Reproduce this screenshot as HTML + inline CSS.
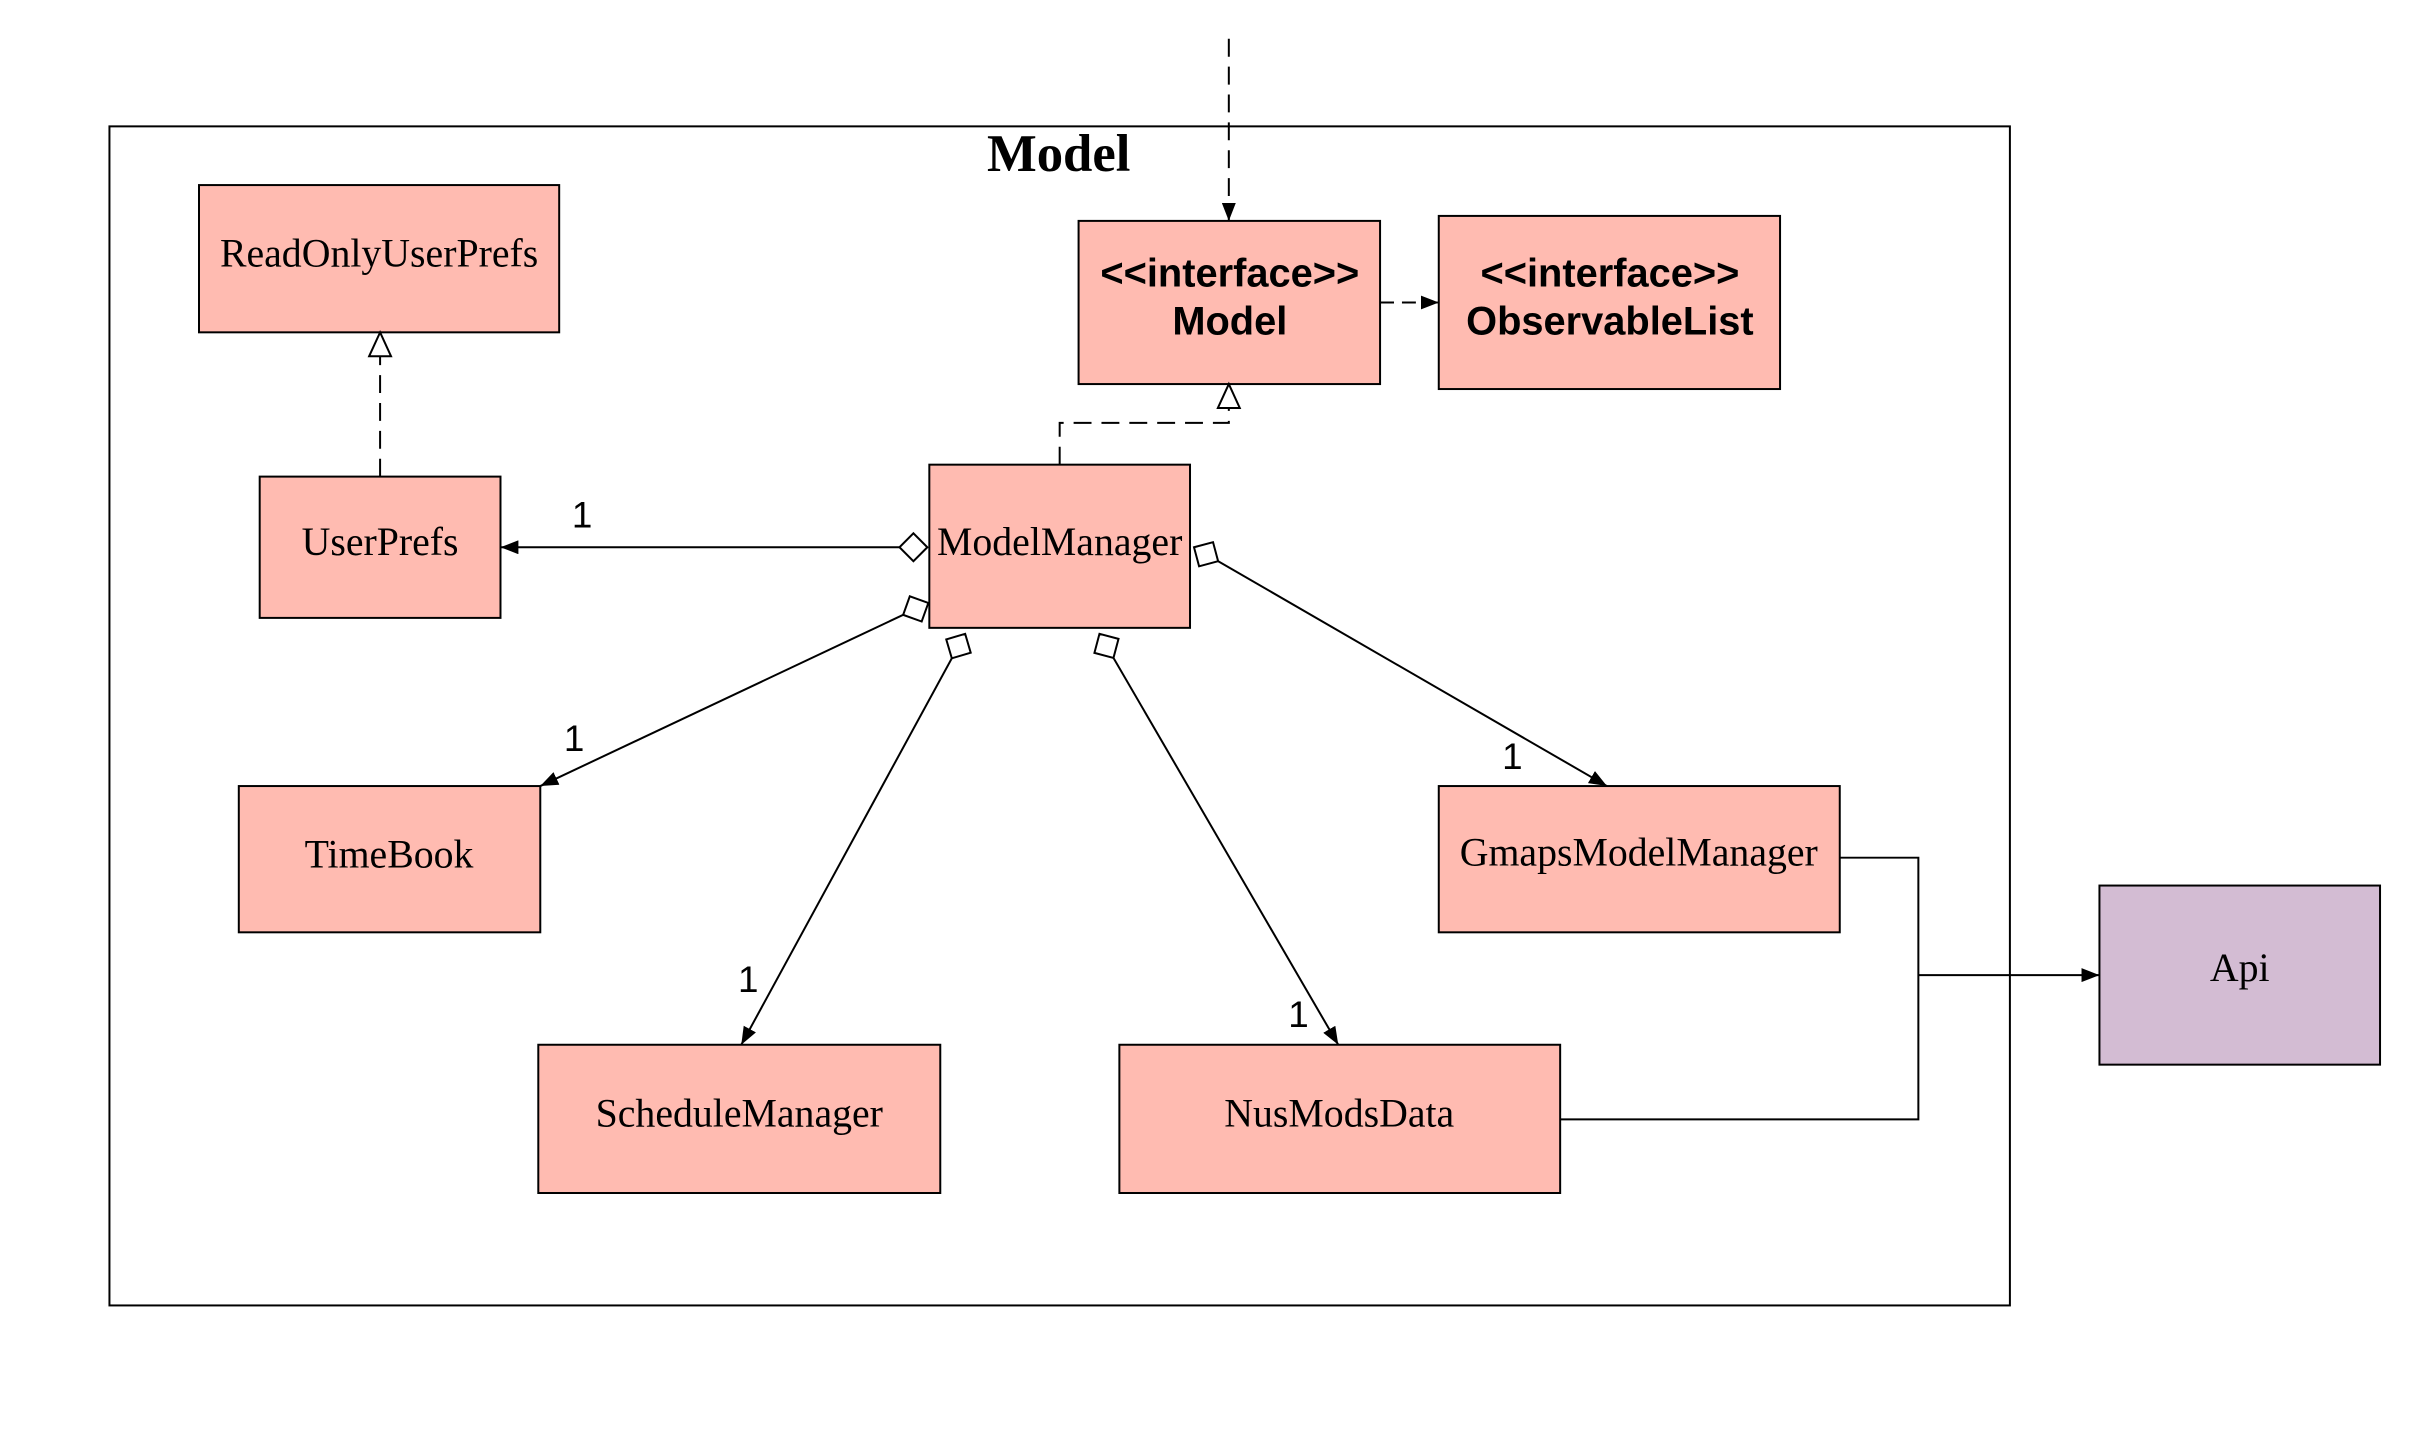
<!DOCTYPE html>
<html><head><meta charset="utf-8"><style>
html,body{margin:0;padding:0;background:#fff;}
svg{display:block}
.s{font-family:"Liberation Serif",serif;font-size:40px;fill:#000}
.b{font-family:"Liberation Sans",sans-serif;font-size:40px;font-weight:bold;fill:#000}
.n{font-family:"Liberation Sans",sans-serif;font-size:37px;fill:#000}
</style></head><body>
<svg width="2420" height="1435" viewBox="0 0 2420 1435" xmlns="http://www.w3.org/2000/svg">
<defs>
<marker id="arr" markerWidth="20" markerHeight="14" refX="18" refY="7" orient="auto" markerUnits="userSpaceOnUse">
<path d="M0,0 L18,7 L0,14 z" fill="#000"/></marker>
<marker id="tri" markerWidth="30" markerHeight="30" refX="26" refY="13" orient="auto" markerUnits="userSpaceOnUse">
<path d="M2,2 L26,13 L2,24 z" fill="#fff" stroke="#000" stroke-width="2"/></marker>
<marker id="dia" markerWidth="34" markerHeight="34" refX="2" refY="16" orient="auto" markerUnits="userSpaceOnUse">
<path d="M2,16 L16,2 L30,16 L16,30 z" fill="#fff" stroke="#000" stroke-width="2"/></marker>
</defs>
<g transform="scale(0.995)">
<rect x="110" y="127" width="1910" height="1185" fill="#fff" stroke="#000" stroke-width="2"/>
<text x="1064" y="172" text-anchor="middle" style="font-family:'Liberation Serif',serif;font-size:53px;font-weight:bold">Model</text>
<g fill="#ffbbb1" stroke="#000" stroke-width="2">
<rect x="200" y="186" width="362" height="148"/>
<rect x="1084" y="222" width="303" height="164"/>
<rect x="1446" y="217" width="343" height="174"/>
<rect x="261" y="479" width="242" height="142"/>
<rect x="934" y="467" width="262" height="164"/>
<rect x="240" y="790" width="303" height="147"/>
<rect x="1446" y="790" width="403" height="147"/>
<rect x="541" y="1050" width="404" height="149"/>
<rect x="1125" y="1050" width="443" height="149"/>
</g>
<rect x="2110" y="890" width="282" height="180" fill="#d3bcd3" stroke="#000" stroke-width="2"/>
<text class="s" x="381" y="268" text-anchor="middle">ReadOnlyUserPrefs</text>
<text class="b" x="1236" y="288" text-anchor="middle">&lt;&lt;interface&gt;&gt;</text>
<text class="b" x="1236" y="336" text-anchor="middle">Model</text>
<text class="b" x="1618" y="288" text-anchor="middle">&lt;&lt;interface&gt;&gt;</text>
<text class="b" x="1618" y="336" text-anchor="middle">ObservableList</text>
<text class="s" x="382" y="558" text-anchor="middle">UserPrefs</text>
<text class="s" x="1065" y="558" text-anchor="middle">ModelManager</text>
<text class="s" x="391" y="872" text-anchor="middle">TimeBook</text>
<text class="s" x="1647" y="870" text-anchor="middle">GmapsModelManager</text>
<text class="s" x="743" y="1132" text-anchor="middle">ScheduleManager</text>
<text class="s" x="1346" y="1132" text-anchor="middle">NusModsData</text>
<text class="s" x="2251" y="986" text-anchor="middle">Api</text>
<g fill="none" stroke="#000" stroke-width="2">
<path d="M1235,39 L1235,222" stroke-dasharray="18,10" marker-end="url(#arr)"/>
<path d="M1387,304 L1446,304" stroke-dasharray="14,8" marker-end="url(#arr)"/>
<path d="M382,479 L382,334" stroke-dasharray="18,10" marker-end="url(#tri)"/>
<path d="M1065,467 L1065,425 L1235,425 L1235,386" stroke-dasharray="18,10" marker-end="url(#tri)"/>
<path d="M932,550 L503,550" marker-start="url(#dia)" marker-end="url(#arr)"/>
<path d="M933,606 L543,790" marker-start="url(#dia)" marker-end="url(#arr)"/>
<path d="M970,637 L745,1050" marker-start="url(#dia)" marker-end="url(#arr)"/>
<path d="M1105,637 L1345,1050" marker-start="url(#dia)" marker-end="url(#arr)"/>
<path d="M1200,550 L1615,790" marker-start="url(#dia)" marker-end="url(#arr)"/>
<path d="M1849,862 L1928,862 L1928,1125 L1568,1125"/>
<path d="M1928,980 L2110,980" marker-end="url(#arr)"/>
</g>
<text class="n" x="585" y="530" text-anchor="middle">1</text>
<text class="n" x="577" y="755" text-anchor="middle">1</text>
<text class="n" x="752" y="997" text-anchor="middle">1</text>
<text class="n" x="1305" y="1032" text-anchor="middle">1</text>
<text class="n" x="1520" y="773" text-anchor="middle">1</text>
</g>
</svg>
</body></html>
